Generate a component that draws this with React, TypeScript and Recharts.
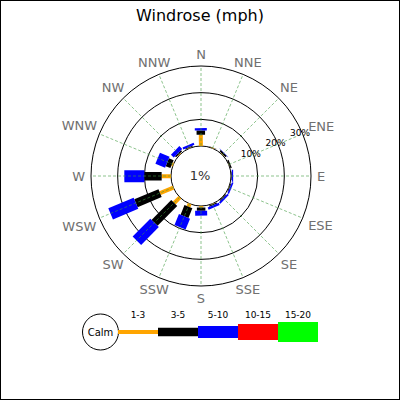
import { RadialBarChart, RadialBar, PolarGrid, PolarAngleAxis, PolarRadiusAxis, Legend } from "recharts"

// wind directions (clockwise from north)
const directions = ["N", "NNE", "NE", "ENE", "E", "ESE", "SE", "SSE", "S", "SSW", "SW", "WSW", "W", "WNW", "NW", "NNW"]

// frequency (%) per speed bin
const mph1to3 = [4.2, 0.2, 0.2, 0.1, 0.1, 0.1, 0.1, 0.2, 0.6, 1.2, 3.0, 5.4, 3.5, 0.5, 0.3, 0.2]
const mph3to5 = [1.6, 0.1, 0.7, 0.5, 0.2, 0.3, 0.4, 0.4, 1.2, 3.9, 10.5, 9.8, 6.5, 1.9, 0.6, 0.3]
const mph5to10 = [0.9, 0, 0.1, 0, 0.5, 0.6, 0.7, 0.9, 1.8, 4.4, 9.4, 10.3, 7.5, 3.9, 1.5, 0.8]
const mph10to15 = [0, 0, 0, 0, 0, 0, 0, 0, 0, 0, 0, 0, 0, 0, 0, 0]
const mph15to20 = [0, 0, 0, 0, 0, 0, 0, 0, 0, 0, 0, 0, 0, 0, 0, 0]

const speedBins = ["1-3", "3-5", "5-10", "10-15", "15-20"]
const radiusTicks = [0, 10, 20, 30]
const calmLabel = "1%"

const binColors = ["#FFA500", "#000000", "#0000FF", "#FF0000", "#00FF00"]
const binWidths = [4, 8.5, 12, 16, 20]

const seriesValues = [mph1to3, mph3to5, mph5to10, mph10to15, mph15to20]
const data = directions.map((dir, i) => {
  const row: Record<string, string | number> = { dir }
  speedBins.forEach((bin, k) => {
    row[bin] = seriesValues[k][i]
  })
  return row
})

const CX = 201
const CY = 176
const INNER_R = 30
const OUTER_R = 110
const FONT = "DejaVu Sans"
const RAD = Math.PI / 180
// the angle axis puts ticks at band edges; labels and spokes go to band centres
const HALF_BAND = 180 / directions.length

// rectangular bar of constant pixel width along the sector's middle angle
function barShape(width: number) {
  return (props: any) => {
    const { cx, cy, innerRadius, outerRadius, startAngle, endAngle, fill } = props
    if (!(outerRadius - innerRadius > 0.01)) return <g />
    const mid = (startAngle + endAngle) / 2
    const ux = Math.cos(-mid * RAD)
    const uy = Math.sin(-mid * RAD)
    const px = (-uy * width) / 2
    const py = (ux * width) / 2
    const pts = [
      [innerRadius, 1],
      [outerRadius, 1],
      [outerRadius, -1],
      [innerRadius, -1],
    ]
      .map(([r, s]) => `${cx + ux * r + s * px},${cy + uy * r + s * py}`)
      .join(" ")
    return <polygon points={pts} fill={fill} />
  }
}

const charW: Record<string, number> = { N: 0.748, S: 0.635, E: 0.632, W: 0.989 }

function CompassTick(props: any) {
  const { payload } = props
  const cx = props.cx ?? CX
  const cy = props.cy ?? CY
  const label = String(payload.value)
  const fontSize = 13
  const w = label.split("").reduce((s, c) => s + (charW[c] ?? 0.7), 0) * fontSize
  const a = payload.coordinate + HALF_BAND
  const c = Math.cos(-a * RAD)
  const s = Math.sin(-a * RAD)
  const t = Math.min(Math.abs(c) > 1e-6 ? w / 2 / Math.abs(c) : 1e9, Math.abs(s) > 1e-6 ? 6 / Math.abs(s) : 1e9)
  const r = 116 + t
  return (
    <g>
      <line
        x1={cx + INNER_R * c}
        y1={cy + INNER_R * s}
        x2={cx + OUTER_R * c}
        y2={cy + OUTER_R * s}
        stroke="#3f9a3f"
        strokeWidth={0.6}
        strokeDasharray="3 2"
      />
      <text x={cx + r * c} y={cy + r * s} textAnchor="middle" dominantBaseline="central" fontSize={fontSize} fontFamily={FONT} fill="#707070">
        {label}
      </text>
    </g>
  )
}

function RadiusTick(props: any) {
  const { x, y, payload } = props
  if (payload.value === 0) return <g />
  return (
    <text x={x - 2.5} y={y - 0.8} textAnchor="middle" dominantBaseline="central" fontSize={9} fontFamily={FONT} fill="#000">
      {`${payload.value}%`}
    </text>
  )
}

function WindLegend() {
  return (
    <svg width={400} height={60}>
      <circle cx={100.5} cy={32} r={18} fill="#fff" stroke="#000" />
      <text x={100.5} y={32} textAnchor="middle" dominantBaseline="central" fontSize={10} fontFamily={FONT}>
        Calm
      </text>
      {speedBins.map((bin, k) => (
        <g key={bin}>
          <rect x={118 + k * 40} y={32 - binWidths[k] / 2} width={40} height={binWidths[k]} fill={binColors[k]} />
          <text x={138 + k * 40} y={15} textAnchor="middle" dominantBaseline="central" fontSize={9} fontFamily={FONT}>
            {bin}
          </text>
        </g>
      ))}
    </svg>
  )
}

export default function App() {
  return (
    <div style={{ position: "absolute", left: 0, top: 0, width: 400, height: 400, background: "#fff", outline: "1px solid #000", outlineOffset: -1 }}>
      <RadialBarChart
        width={400}
        height={400}
        data={data}
        layout="centric"
        cx={CX}
        cy={CY}
        innerRadius={INNER_R}
        outerRadius={OUTER_R}
        startAngle={90 - HALF_BAND}
        endAngle={90 - HALF_BAND - 360}
        barCategoryGap={0}
        margin={{ top: 0, right: 0, bottom: 0, left: 0 }}
      >
        <PolarAngleAxis type="category" dataKey="dir" axisLine={false} tickLine={false} tick={<CompassTick />} />
        <PolarGrid gridType="circle" radialLines={false} stroke="#000" strokeWidth={1} />
        <PolarRadiusAxis type="number" domain={[0, 30]} ticks={radiusTicks} angle={22.5} axisLine={false} tick={<RadiusTick />} />
        {speedBins.map((bin, k) => (
          <RadialBar
            key={bin}
            dataKey={bin}
            name={bin}
            stackId="wind"
            fill={binColors[k]}
            shape={barShape(binWidths[k])}
            isAnimationActive={false}
          />
        ))}
        <Legend content={() => <WindLegend />} wrapperStyle={{ position: "absolute", left: 0, top: 300, width: 400, height: 60 }} />
        <text x={200} y={15} textAnchor="middle" dominantBaseline="central" fontSize={16} fontFamily={FONT} fill="#000">
          Windrose (mph)
        </text>
        <text x={CX - 1} y={CY - 1} textAnchor="middle" dominantBaseline="central" fontSize={13} fontFamily={FONT} fill="#333">
          {calmLabel}
        </text>
      </RadialBarChart>
    </div>
  )
}
